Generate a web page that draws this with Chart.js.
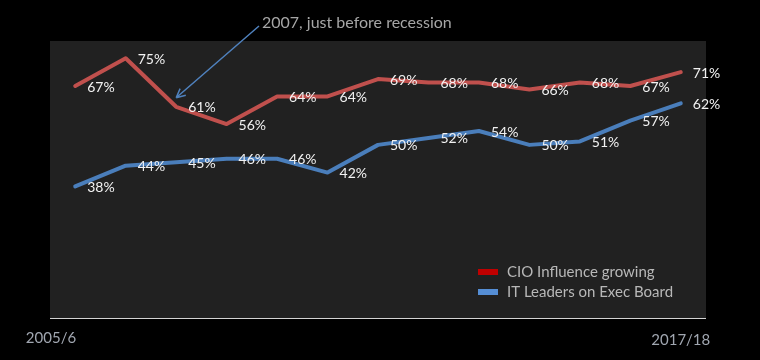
<!DOCTYPE html>
<html>
<head>
<meta charset="utf-8">
<script src="https://cdn.jsdelivr.net/npm/chart.js@4/dist/chart.umd.min.js"></script>
<style>
  html, body { margin: 0; padding: 0; background: #000; }
  canvas { display: block; }
</style>
</head>
<body>
<canvas id="chart" width="760" height="360"></canvas>
<script>
const years = ['2005/6', '2006/7', '2007/8', '2008/9', '2009/10', '2010/11', '2011/12',
  '2012/13', '2013/14', '2014/15', '2015/16', '2016/17', '2017/18']
const cioInfluence = [67, 75, 61, 56, 64, 64, 69, 68, 68, 66, 68, 67, 71]
const itLeadersOnBoard = [38, 44, 45, 46, 46, 42, 50, 52, 54, 50, 51, 57, 62]
const seriesNames = ['CIO Influence growing', 'IT Leaders on Exec Board']
const axisEndLabels = ['2005/6', '2017/18']
const noteText = '2007, just before recession'
const noteIndex = 2 // the 2007 point on the CIO line

// grey plot box + bottom axis line
const plotBox = {
  id: 'plotBox',
  beforeDraw (chart) {
    const {ctx, chartArea: a} = chart
    ctx.save()
    ctx.fillStyle = '#212121'
    ctx.fillRect(a.left, a.top, a.right - a.left, a.bottom - a.top)
    ctx.strokeStyle = '#d4d4d4'
    ctx.lineWidth = 1
    ctx.beginPath()
    ctx.moveTo(a.left, a.bottom + 0.5)
    ctx.lineTo(a.right, a.bottom + 0.5)
    ctx.stroke()
    ctx.restore()
  }
}

// value labels, legend, end labels and the callout
const extras = {
  id: 'extras',
  afterDatasetsDraw (chart) {
    const {ctx, chartArea: a} = chart
    ctx.save()

    // % labels to the right of each point
    ctx.font = '14px Lato'
    ctx.fillStyle = '#f2f2f2'
    ctx.textAlign = 'left'
    ctx.textBaseline = 'middle'
    chart.data.datasets.forEach((ds, i) => {
      chart.getDatasetMeta(i).data.forEach((pt, j) => {
        ctx.fillText(ds.data[j] + '%', pt.x + 12, pt.y + 1)
      })
    })

    // legend inside the plot, bottom right
    const swatches = ['#c00000', '#558ed5']
    ctx.font = '15px Lato'
    seriesNames.forEach((name, i) => {
      const y = a.bottom - 46 + i * 20
      ctx.fillStyle = swatches[i]
      ctx.fillRect(a.right - 228, y - 3, 20, 6)
      ctx.fillStyle = '#b8b8b8'
      ctx.fillText(name, a.right - 199, y)
    })

    // first / last period under the axis
    const pts = chart.getDatasetMeta(0).data
    ctx.fillStyle = '#a0a6b0'
    ctx.textAlign = 'center'
    ctx.font = '15px Lato'
    ctx.fillText(axisEndLabels[0], a.left + 1, a.bottom + 20)
    ctx.fillText(axisEndLabels[1], pts[pts.length - 1].x, a.bottom + 22)

    // callout text and arrow
    const target = pts[noteIndex]
    ctx.textAlign = 'left'
    ctx.font = '16px Lato'
    ctx.fillStyle = '#a6a6a6'
    ctx.fillText(noteText, 262, 23)
    const sx = 259, sy = 26
    const tx = target.x, ty = target.y - 9
    ctx.strokeStyle = '#4f81bd'
    ctx.lineWidth = 1.5
    ctx.beginPath()
    ctx.moveTo(sx, sy)
    ctx.lineTo(tx, ty)
    const ang = Math.atan2(ty - sy, tx - sx)
    const len = 10
    ctx.moveTo(tx, ty)
    ctx.lineTo(tx - len * Math.cos(ang - 0.45), ty - len * Math.sin(ang - 0.45))
    ctx.moveTo(tx, ty)
    ctx.lineTo(tx - len * Math.cos(ang + 0.45), ty - len * Math.sin(ang + 0.45))
    ctx.stroke()

    ctx.restore()
  }
}

new Chart('chart', {
  type: 'line',
  data: {
    labels: years,
    datasets: [{
      label: seriesNames[0],
      data: cioInfluence,
      borderColor: '#c0504d',
      borderWidth: 4
    }, {
      label: seriesNames[1],
      data: itLeadersOnBoard,
      borderColor: '#4a7ebb',
      borderWidth: 4
    }]
  },
  options: {
    responsive: false,
    animation: false,
    layout: { padding: { left: 50, top: 41, right: 54, bottom: 42 } },
    elements: { point: { radius: 0 }, line: { tension: 0, borderCapStyle: 'round', borderJoinStyle: 'round' } },
    scales: {
      x: { display: false, offset: true },
      y: { display: false, min: 0, max: 80 }
    },
    plugins: {
      legend: { display: false },
      tooltip: { enabled: false }
    }
  },
  plugins: [plotBox, extras]
})
</script>
</body>
</html>
